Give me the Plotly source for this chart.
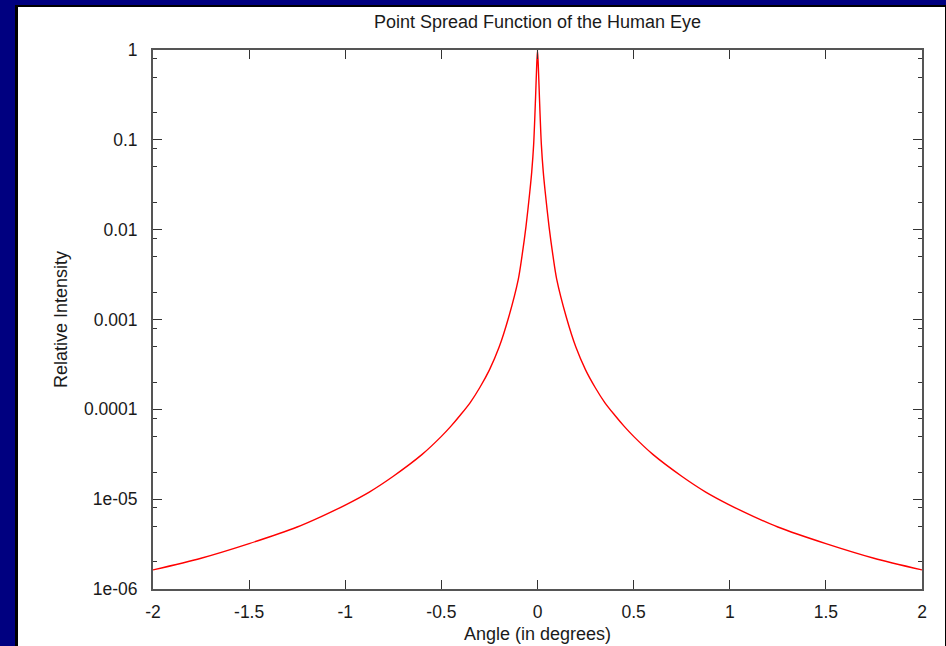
import plotly.graph_objects as go

# angle (degrees) and relative intensity
angle = [-2.0, -1.75, -1.5, -1.25, -1.125, -1.0, -0.875, -0.75, -0.6, -0.5, -0.45, -0.4,
         -0.35, -0.3, -0.25, -0.2, -0.15, -0.1, -0.08, -0.06, -0.04, -0.03, -0.02, -0.01,
         -0.005, 0.0, 0.005,
         0.01, 0.02, 0.03, 0.04, 0.06, 0.08, 0.1, 0.15, 0.2, 0.25, 0.3, 0.35, 0.4, 0.45,
         0.5, 0.6, 0.75, 0.875, 1.0, 1.125, 1.25, 1.5, 1.75, 2.0]
intensity = [1.63e-6, 2.2e-6, 3.2e-6, 4.9e-6, 6.4e-6, 8.6e-6, 1.2e-5, 1.8e-5, 3.15e-5,
             5.0e-5, 6.5e-5, 8.7e-5, 1.19e-4, 1.75e-4, 2.75e-4, 4.9e-4, 1.06e-3, 2.8e-3,
             5.2e-3, 1.08e-2, 2.64e-2, 4.4e-2, 0.089, 0.3,
             0.6, 1.0, 0.6,
             0.3, 0.089, 4.4e-2, 2.64e-2, 1.08e-2, 5.2e-3, 2.8e-3, 1.06e-3, 4.9e-4, 2.75e-4,
             1.75e-4, 1.19e-4, 8.7e-5, 6.5e-5, 5.0e-5, 3.15e-5, 1.8e-5, 1.2e-5, 8.6e-6,
             6.4e-6, 4.9e-6, 3.2e-6, 2.2e-6, 1.63e-6]

x_ticks = [-2, -1.5, -1, -0.5, 0, 0.5, 1, 1.5, 2]
x_labels = ['-2', '-1.5', '-1', '-0.5', '0', '0.5', '1', '1.5', '2']
y_ticks = [1, 0.1, 0.01, 0.001, 0.0001, 1e-5, 1e-6]
y_labels = ['1', '0.1', '0.01', '0.001', '0.0001', '1e-05', '1e-06']
y_minor = [m * d for d in [1e-6, 1e-5, 1e-4, 1e-3, 1e-2, 1e-1] for m in (2, 5, 8)]

W, H = 946, 646
L, R, T, B = 153, 922, 50, 589


def px(x):
    return (x - L) / (R - L)


def py(y):
    return (B - y) / (B - T)


fig = go.Figure()
fig.add_trace(go.Scatter(
    x = angle, y = intensity,
    mode = 'lines',
    line = dict(color = '#ff0000', width = 1.4, shape = 'spline', smoothing = 0.8),
    hoverinfo = 'x+y'
))

font = dict(family = 'Liberation Sans, Arial, sans-serif', color = '#1a1a1a')

fig.update_layout(
    width = W, height = H,
    autosize = False,
    paper_bgcolor = '#000080',
    plot_bgcolor = 'white',
    showlegend = False,
    margin = {'l': L, 'r': W - R, 't': T, 'b': H - B, 'pad': 0, 'autoexpand': False},
    font = dict(size = 17.5, **font),
    title = dict(
        text = 'Point Spread Function of the Human Eye',
        xref = 'paper', x = 0.5, xanchor = 'center',
        yref = 'container', y = 1 - 22 / H, yanchor = 'middle',
        font = dict(size = 18, **font)
    ),
    shapes = [
        dict(type = 'rect', xref = 'paper', yref = 'paper', layer = 'below',
             x0 = px(15), x1 = px(950), y0 = py(5), y1 = py(650),
             fillcolor = 'black', line = dict(width = 0)),
        dict(type = 'rect', xref = 'paper', yref = 'paper', layer = 'below',
             x0 = px(18), x1 = px(945), y0 = py(7), y1 = py(650),
             fillcolor = 'white', line = dict(width = 0)),
    ],
    xaxis = dict(
        range = [-2, 2],
        automargin = False,
        tickvals = x_ticks, ticktext = x_labels,
        ticks = 'inside', ticklen = 9, tickwidth = 1, tickcolor = '#333333',
        showline = True, linecolor = '#555555', linewidth = 2, mirror = 'ticks',
        showgrid = False, zeroline = False,
        ticklabelstandoff = 6,
        title = dict(text = 'Angle (in degrees)', standoff = 6, font = dict(size = 18, **font))
    ),
    yaxis = dict(
        type = 'log', range = [-6, 0],
        automargin = False,
        tickvals = y_ticks, ticktext = y_labels,
        ticks = 'inside', ticklen = 9, tickwidth = 1, tickcolor = '#333333',
        minor = dict(tickvals = y_minor, ticks = 'inside', ticklen = 4, tickcolor = '#333333', showgrid = False),
        showline = True, linecolor = '#555555', linewidth = 2, mirror = 'ticks',
        showgrid = False, zeroline = False,
        ticklabelstandoff = 10,
        title = dict(text = 'Relative Intensity', standoff = 12, font = dict(size = 18, **font))
    ),
)

fig.write_html("out.html",
               config = {'displayModeBar': False, 'responsive': False},
               post_script = "document.body.style.margin='0';document.body.style.background='#000080';")
